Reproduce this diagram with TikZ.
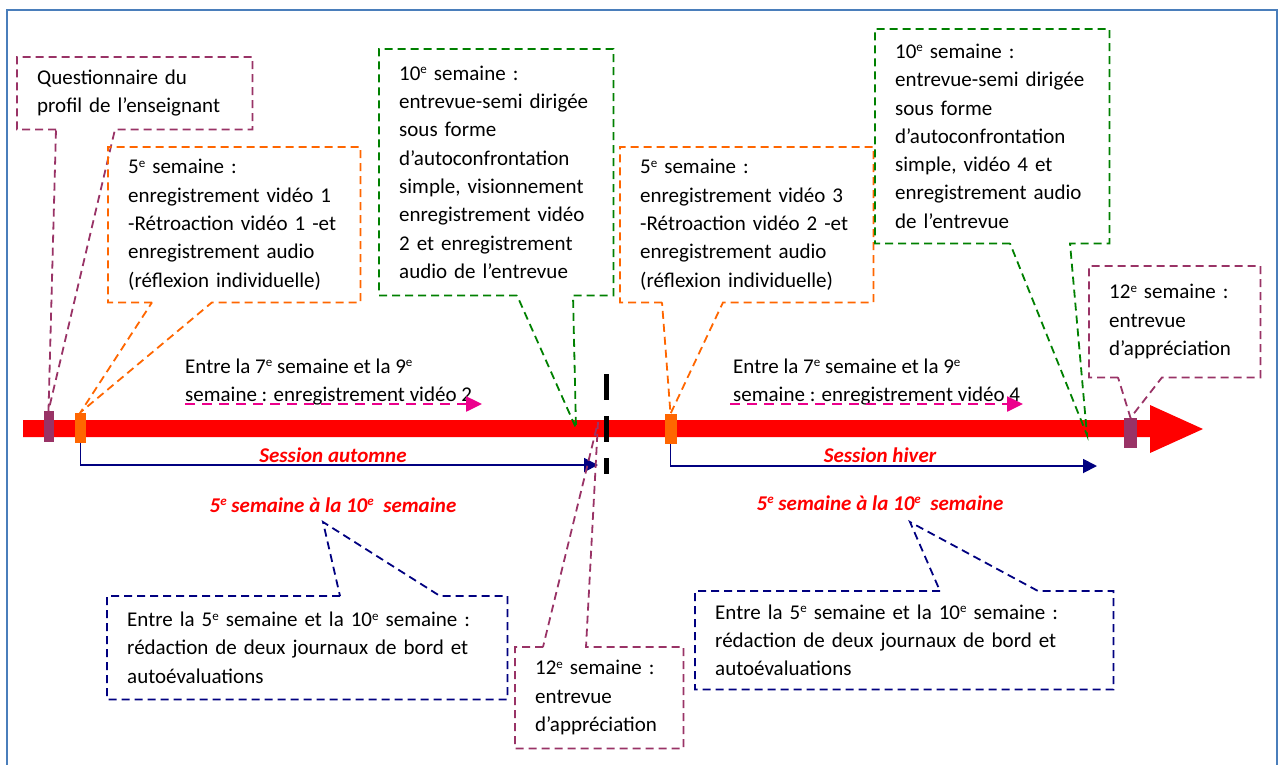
\documentclass[tikz,border=0pt]{standalone}
\usepackage{fontspec}
\setmainfont{Carlito}
\usetikzlibrary{arrows.meta}

\definecolor{calpur}{RGB}{153,51,102}
\definecolor{calora}{RGB}{255,102,0}
\definecolor{calgre}{RGB}{0,128,0}
\definecolor{calnav}{RGB}{0,0,128}
\definecolor{framec}{RGB}{74,126,187}

\newcommand{\expe}{\raisebox{6.5pt}{\fontsize{13}{13}\selectfont e}}

\tikzset{
  txt/.style={font=\fontsize{21}{28.3}\selectfont},
  box/.style={txt, anchor=north west, inner xsep=20pt, inner ysep=0pt, align=left},
  call/.style={dash pattern=on 8pt off 5pt, line width=1.8pt},
  callpur/.style={call, draw=calpur},
  callora/.style={call, draw=calora},
  callgre/.style={call, draw=calgre},
  callnav/.style={call, draw=calnav},
  marker/.style={rectangle, inner sep=0pt, minimum width=11pt, minimum height=30pt},
  navarr/.style={calnav, line width=1.8pt, -{Triangle[length=14pt,width=14pt]}},
  magarr/.style={magenta, line width=2.5pt, dash pattern=on 10pt off 7pt, -{Triangle[length=16pt,width=15pt]}},
  lbl/.style={font=\fontsize{21}{28.3}\selectfont\bfseries\itshape, red, inner sep=0pt}
}

\begin{document}
\begin{tikzpicture}[x=1pt, y=-1pt]

\useasboundingbox (0,0) rectangle (1282,764);

% frame
\draw[framec, line width=2.5pt] (7,770) -- (7,10) -- (1277,10) -- (1277,770);

% time line
\fill[red] (23,420) -- (1150,420) -- (1150,405) -- (1203,429) -- (1150,453) -- (1150,437) -- (23,437) -- cycle;
\draw[line width=5pt, dash pattern=on 26pt off 16pt] (606,374) -- (606,474);

\node[marker, fill=calpur, minimum width=10pt, minimum height=31pt] (mkq) at (48.5,426.5) {};
\node[marker, fill=calora] (mko1) at (80.5,427.5) {};
\node[marker, fill=calora, minimum width=12pt] (mko2) at (670.5,429) {};
\node[marker, fill=calpur, minimum width=13pt] (mkf) at (1130.5,433) {};

\coordinate (tpc) at (576,428);
\coordinate (tpe) at (1087,435);
\coordinate (tpg) at (598,422);
\coordinate (tpja) at (323,522);
\coordinate (tpjh) at (910,522);

% sessions
\coordinate (enda) at (598,465);
\coordinate (endh) at (1097,466);
\draw[navarr] (mko1.south) |- (enda);
\draw[navarr] (mko2.south) |- (endh);

\node[lbl] (ssa) at (333,455) {Session automne};
\node[lbl] (ssh) at (880,455) {Session hiver};
\node[lbl] (wka) at (333,505) {5\expe\ semaine à la 10\expe~ semaine};
\node[lbl] (wkh) at (880,503) {5\expe\ semaine à la 10\expe~ semaine};

% video 2 and 4
\node[txt, anchor=west, inner sep=0pt, align=left] (vda) at (185,382) {Entre la 7\expe\ semaine et la 9\expe\\semaine : enregistrement vidéo 2};
\node[txt, anchor=west, inner sep=0pt, align=left] (vdh) at (733,382) {Entre la 7\expe\ semaine et la 9\expe\\semaine : enregistrement vidéo 4};
\coordinate (m1s) at (185,404);
\coordinate (m1e) at (482,404);
\coordinate (m2s) at (730,404);
\coordinate (m2e) at (1023,404);
\draw[magarr] (m1s) -- (m1e);
\draw[magarr] (m2s) -- (m2e);

% boxes
\node[box, text width=195pt, minimum height=72pt] (qa) at (17,57) {Questionnaire du\\profil de l’enseignant};
\node[box, text width=212pt, minimum height=155pt] (vb) at (108,147) {5\expe\ semaine :\\enregistrement vidéo 1\\-Rétroaction vidéo 1 -et\\enregistrement audio\\(réflexion individuelle)};
\node[box, text width=194pt, minimum height=246pt] (ic) at (379,49) {10\expe\ semaine :\\entrevue-semi dirigée\\sous forme\\d’autoconfrontation\\simple, visionnement\\enregistrement vidéo\\2 et enregistrement\\audio de l’entrevue};
\node[box, text width=213pt, minimum height=155pt] (vd) at (620,147) {5\expe\ semaine :\\enregistrement vidéo 3\\-Rétroaction vidéo 2 -et\\enregistrement audio\\(réflexion individuelle)};
\node[box, text width=194pt, minimum height=214pt] (ih) at (875,29) {10\expe\ semaine :\\entrevue-semi dirigée\\sous forme\\d’autoconfrontation\\simple, vidéo 4 et\\enregistrement audio\\de l’entrevue};
\node[box, text width=131pt, minimum height=111pt] (af) at (1089,266) {12\expe\ semaine :\\entrevue\\d’appréciation};
\node[box, text width=128pt, minimum height=101pt] (ag) at (515,647) {12\expe\ semaine :\\entrevue\\d’appréciation};
\node[box, text width=360pt, minimum height=103pt] (jba) at (107,596) {Entre la 5\expe\ semaine et la 10\expe\ semaine :\\rédaction de deux journaux de bord et\\autoévaluations};
\node[box, text width=378pt, minimum height=98pt] (jbh) at (695,591) {Entre la 5\expe\ semaine et la 10\expe\ semaine :\\rédaction de deux journaux de bord et\\autoévaluations};

% callouts
\draw[callpur] ([xshift=39pt]qa.south west) -- (qa.south west) |- (qa.north east) -- (qa.south east) -- ([xshift=98pt]qa.south west) -- (mkq.north) -- cycle;
\draw[callora] ([xshift=44pt]vb.south west) -- (vb.south west) |- (vb.north east) -- (vb.south east) -- ([xshift=104pt]vb.south west) -- (mko1.north) -- cycle;
\draw[callgre] ([xshift=138pt]ic.south west) -- (ic.south west) |- (ic.north east) -- (ic.south east) -- ([xshift=194pt]ic.south west) -- (tpc) -- cycle;
\draw[callora] ([xshift=42pt]vd.south west) -- (vd.south west) |- (vd.north east) -- (vd.south east) -- ([xshift=103pt]vd.south west) -- (mko2.north) -- cycle;
\draw[callgre] ([xshift=135pt]ih.south west) -- (ih.south west) |- (ih.north east) -- (ih.south east) -- ([xshift=195pt]ih.south west) -- (tpe) -- cycle;
\draw[callpur] ([xshift=29pt]af.south west) -- (af.south west) |- (af.north east) -- (af.south east) -- ([xshift=73pt]af.south west) -- (mkf.north) -- cycle;
\draw[callpur] ([xshift=28pt]ag.north west) -- (ag.north west) |- (ag.south east) -- (ag.north east) -- ([xshift=71pt]ag.north west) -- (tpg) -- cycle;
\draw[callnav] ([xshift=233pt]jba.north west) -- (jba.north west) |- (jba.south east) -- (jba.north east) -- ([xshift=333pt]jba.north west) -- (tpja) -- cycle;
\draw[callnav] ([xshift=245pt]jbh.north west) -- (jbh.north west) |- (jbh.south east) -- (jbh.north east) -- ([xshift=343pt]jbh.north west) -- (tpjh) -- cycle;

\end{tikzpicture}
\end{document}
